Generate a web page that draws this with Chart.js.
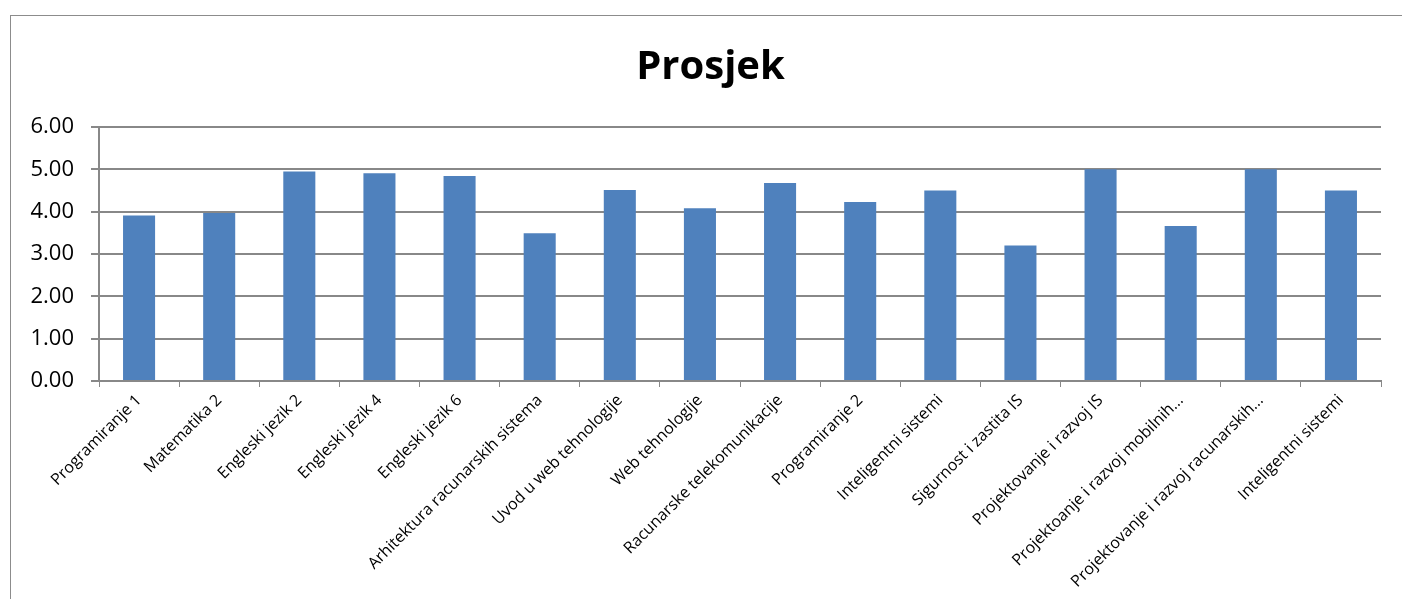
<!DOCTYPE html>
<html>
<head>
<meta charset="utf-8">
<script src="https://cdn.jsdelivr.net/npm/chart.js@4/dist/chart.umd.min.js"></script>
<style>
  html, body { margin: 0; padding: 0; background: #fff; overflow: hidden; width: 1402px; height: 599px; }
  #frame { position: absolute; left: 10px; top: 15px; width: 1500px; height: 700px; border: 1px solid #8c8c8c; box-sizing: border-box; }
  #wrap { position: absolute; left: 0; top: 0; width: 1402px; height: 599px; }
</style>
</head>
<body>
<div id="frame"></div>
<div id="wrap"><canvas id="c" width="1402" height="599"></canvas></div>
<script>
const titleText = "Prosjek";
const categories = [
  "Programiranje 1",
  "Matematika 2",
  "Engleski jezik 2",
  "Engleski jezik 4",
  "Engleski jezik 6",
  "Arhitektura racunarskih sistema",
  "Uvod u web tehnologije",
  "Web tehnologije",
  "Racunarske telekomunikacije",
  "Programiranje 2",
  "Inteligentni sistemi",
  "Sigurnost i zastita IS",
  "Projektovanje i razvoj IS",
  "Projektoanje i razvoj mobilnih...",
  "Projektovanje i razvoj racunarskih...",
  "Inteligentni sistemi"
];
const prosjek = [3.91, 3.97, 4.95, 4.91, 4.84, 3.49, 4.51, 4.08, 4.68, 4.23, 4.50, 3.20, 5.00, 3.66, 5.00, 4.50];
const yTicks = [0, 1, 2, 3, 4, 5, 6];

const FONT = "'Open Sans', 'Noto Sans', sans-serif";

// Title centred on the chart frame (as in the original), drawn as canvas text
const frameTitle = {
  id: 'frameTitle',
  afterDraw(chart) {
    const ctx = chart.ctx;
    ctx.save();
    ctx.font = "bold 40px " + FONT;
    ctx.fillStyle = '#000';
    ctx.textAlign = 'center';
    ctx.textBaseline = 'middle';
    ctx.fillText(titleText, 710.5, 68);
    ctx.restore();
  }
};

new Chart(document.getElementById('c'), {
  type: 'bar',
  data: {
    labels: categories,
    datasets: [{
      label: titleText,
      data: prosjek,
      backgroundColor: '#4F81BD',
      borderWidth: 0,
      categoryPercentage: 1.0,
      barPercentage: 0.4
    }]
  },
  options: {
    responsive: false,
    animation: false,
    devicePixelRatio: 1,
    layout: { padding: { left: 0, right: 21, top: 127, bottom: 0 } },
    plugins: {
      legend: { display: false },
      tooltip: { enabled: false },
      title: { display: false }
    },
    scales: {
      x: {
        grid: {
          display: true,
          drawOnChartArea: false,
          drawTicks: true,
          tickLength: 6,
          color: '#888888',
          lineWidth: 1,
          offset: true
        },
        border: { display: true, color: '#888888', width: 2 },
        ticks: {
          autoSkip: false,
          minRotation: 45,
          maxRotation: 45,
          padding: 4,
          color: '#000',
          font: { family: FONT, size: 16 }
        },
        afterFit: (scale) => { scale.height = 218; }
      },
      y: {
        min: 0,
        max: 6,
        afterBuildTicks: (scale) => { scale.ticks = yTicks.map(v => ({ value: v })); },
        grid: {
          color: '#888888',
          lineWidth: 2,
          drawTicks: true,
          tickLength: 8
        },
        border: { display: true, color: '#888888', width: 2 },
        ticks: {
          padding: 17,
          color: '#000',
          font: { family: FONT, size: 22 },
          callback: (v) => Number(v).toFixed(2)
        },
        afterFit: (scale) => { scale.width = 99; }
      }
    }
  },
  plugins: [frameTitle]
});
</script>
</body>
</html>
